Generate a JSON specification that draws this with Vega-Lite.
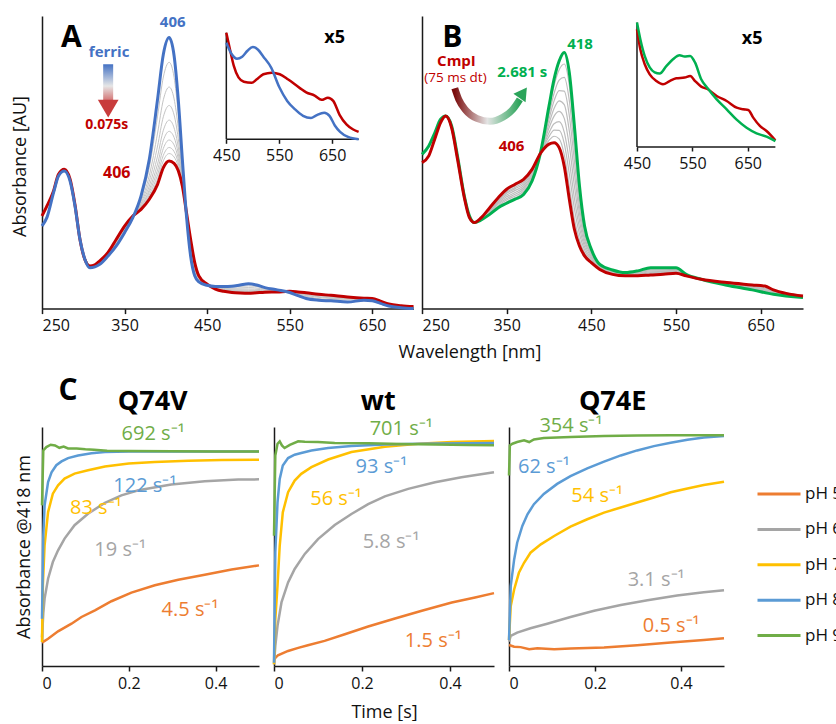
{
  "$schema": "https://vega.github.io/schema/vega-lite/v6.json",
  "padding": {"left": 11, "top": 14, "right": 0, "bottom": 0},
  "background": "white",
  "config": {
    "font": "Open Sans",
    "view": {"stroke": null},
    "axis": {"grid": false, "domainColor": "#1a1a1a", "domainWidth": 1.5, "tickColor": "#1a1a1a", "tickWidth": 1.5, "labelColor": "#111111", "labelFontSize": 16, "labelFont": "Open Sans", "titleFont": "Open Sans", "titleFontWeight": "normal", "titleColor": "#111111", "titleFontSize": 18, "labelPadding": 4},
    "text": {"font": "Open Sans"},
    "title": {"font": "Open Sans"}
  },
  "datasets": {
    "A": [
      {"s":"f","nm":250,"a":0.287},{"s":"f","nm":256,"a":0.317},{"s":"f","nm":264,"a":0.403},{"s":"f","nm":270,"a":0.461},{"s":"f","nm":277,"a":0.478},{"s":"f","nm":284,"a":0.443},{"s":"f","nm":290,"a":0.356},{"s":"f","nm":296,"a":0.24},{"s":"f","nm":302,"a":0.171},{"s":"f","nm":308,"a":0.142},{"s":"f","nm":314,"a":0.145},{"s":"f","nm":320,"a":0.154},{"s":"f","nm":330,"a":0.183},{"s":"f","nm":340,"a":0.218},{"s":"f","nm":350,"a":0.264},{"s":"f","nm":360,"a":0.316},{"s":"f","nm":370,"a":0.392},{"s":"f","nm":380,"a":0.519},{"s":"f","nm":390,"a":0.728},{"s":"f","nm":397,"a":0.884},{"s":"f","nm":404,"a":0.942},{"s":"f","nm":410,"a":0.879},{"s":"f","nm":415,"a":0.728},{"s":"f","nm":420,"a":0.519},{"s":"f","nm":425,"a":0.322},{"s":"f","nm":430,"a":0.183},{"s":"f","nm":435,"a":0.114},{"s":"f","nm":440,"a":0.093},{"s":"f","nm":450,"a":0.081},{"s":"f","nm":460,"a":0.077},{"s":"f","nm":470,"a":0.077},{"s":"f","nm":480,"a":0.078},{"s":"f","nm":490,"a":0.082},{"s":"f","nm":500,"a":0.086},{"s":"f","nm":510,"a":0.082},{"s":"f","nm":520,"a":0.073},{"s":"f","nm":535,"a":0.065},{"s":"f","nm":550,"a":0.056},{"s":"f","nm":560,"a":0.045},{"s":"f","nm":570,"a":0.035},{"s":"f","nm":585,"a":0.029},{"s":"f","nm":600,"a":0.027},{"s":"f","nm":620,"a":0.023},{"s":"f","nm":640,"a":0.029},{"s":"f","nm":650,"a":0.027},{"s":"f","nm":660,"a":0.018},{"s":"f","nm":670,"a":0.009},{"s":"f","nm":685,"a":0.003},{"s":"f","nm":700,"a":0.0},
      {"s":"c","nm":250,"a":0.322},{"s":"c","nm":256,"a":0.357},{"s":"c","nm":264,"a":0.409},{"s":"c","nm":270,"a":0.467},{"s":"c","nm":277,"a":0.484},{"s":"c","nm":284,"a":0.45},{"s":"c","nm":290,"a":0.36},{"s":"c","nm":296,"a":0.24},{"s":"c","nm":302,"a":0.17},{"s":"c","nm":308,"a":0.148},{"s":"c","nm":314,"a":0.152},{"s":"c","nm":320,"a":0.166},{"s":"c","nm":330,"a":0.195},{"s":"c","nm":340,"a":0.241},{"s":"c","nm":350,"a":0.287},{"s":"c","nm":360,"a":0.322},{"s":"c","nm":370,"a":0.345},{"s":"c","nm":380,"a":0.38},{"s":"c","nm":390,"a":0.432},{"s":"c","nm":397,"a":0.49},{"s":"c","nm":404,"a":0.513},{"s":"c","nm":410,"a":0.505},{"s":"c","nm":415,"a":0.48},{"s":"c","nm":420,"a":0.426},{"s":"c","nm":425,"a":0.334},{"s":"c","nm":430,"a":0.241},{"s":"c","nm":435,"a":0.16},{"s":"c","nm":440,"a":0.114},{"s":"c","nm":450,"a":0.085},{"s":"c","nm":460,"a":0.068},{"s":"c","nm":470,"a":0.06},{"s":"c","nm":480,"a":0.056},{"s":"c","nm":490,"a":0.054},{"s":"c","nm":500,"a":0.053},{"s":"c","nm":510,"a":0.055},{"s":"c","nm":520,"a":0.057},{"s":"c","nm":535,"a":0.058},{"s":"c","nm":550,"a":0.06},{"s":"c","nm":560,"a":0.058},{"s":"c","nm":570,"a":0.055},{"s":"c","nm":585,"a":0.05},{"s":"c","nm":600,"a":0.046},{"s":"c","nm":620,"a":0.04},{"s":"c","nm":640,"a":0.036},{"s":"c","nm":650,"a":0.035},{"s":"c","nm":660,"a":0.026},{"s":"c","nm":670,"a":0.016},{"s":"c","nm":685,"a":0.01},{"s":"c","nm":700,"a":0.007}
    ],
    "Agray": [
      {"nm":300,"g1":0.19,"g2":0.19,"g3":0.19,"g4":0.19,"g5":0.19,"g6":0.19,"g7":0.19,"g8":0.19},
      {"nm":310,"g1":0.143,"g2":0.144,"g3":0.145,"g4":0.146,"g5":0.147,"g6":0.147,"g7":0.147,"g8":0.148},
      {"nm":320,"g1":0.156,"g2":0.159,"g3":0.161,"g4":0.162,"g5":0.163,"g6":0.164,"g7":0.165,"g8":0.165},
      {"nm":330,"g1":0.185,"g2":0.188,"g3":0.19,"g4":0.191,"g5":0.192,"g6":0.193,"g7":0.194,"g8":0.194},
      {"nm":340,"g1":0.223,"g2":0.227,"g3":0.231,"g4":0.233,"g5":0.235,"g6":0.237,"g7":0.238,"g8":0.24},
      {"nm":350,"g1":0.269,"g2":0.273,"g3":0.277,"g4":0.279,"g5":0.281,"g6":0.283,"g7":0.284,"g8":0.286},
      {"nm":360,"g1":0.317,"g2":0.318,"g3":0.319,"g4":0.32,"g5":0.321,"g6":0.321,"g7":0.321,"g8":0.322},
      {"nm":370,"g1":0.383,"g2":0.373,"g3":0.366,"g4":0.361,"g5":0.356,"g6":0.353,"g7":0.35,"g8":0.348},
      {"nm":380,"g1":0.491,"g2":0.463,"g3":0.443,"g4":0.426,"g5":0.413,"g6":0.404,"g7":0.395,"g8":0.388},
      {"nm":390,"g1":0.669,"g2":0.61,"g3":0.565,"g4":0.53,"g5":0.503,"g6":0.482,"g7":0.465,"g8":0.45},
      {"nm":397,"g1":0.805,"g2":0.726,"g3":0.667,"g4":0.62,"g5":0.585,"g6":0.557,"g7":0.533,"g8":0.514},
      {"nm":404,"g1":0.856,"g2":0.77,"g3":0.706,"g4":0.655,"g5":0.616,"g6":0.586,"g7":0.56,"g8":0.539},
      {"nm":410,"g1":0.804,"g2":0.729,"g3":0.673,"g4":0.628,"g5":0.595,"g6":0.569,"g7":0.546,"g8":0.527},
      {"nm":415,"g1":0.678,"g2":0.629,"g3":0.592,"g4":0.562,"g5":0.54,"g6":0.522,"g7":0.507,"g8":0.495},
      {"nm":420,"g1":0.5,"g2":0.482,"g3":0.468,"g4":0.457,"g5":0.448,"g6":0.442,"g7":0.436,"g8":0.432},
      {"nm":425,"g1":0.324,"g2":0.327,"g3":0.329,"g4":0.33,"g5":0.331,"g6":0.332,"g7":0.333,"g8":0.333},
      {"nm":430,"g1":0.195,"g2":0.206,"g3":0.215,"g4":0.222,"g5":0.227,"g6":0.231,"g7":0.235,"g8":0.238},
      {"nm":435,"g1":0.123,"g2":0.132,"g3":0.139,"g4":0.145,"g5":0.149,"g6":0.152,"g7":0.155,"g8":0.157},
      {"nm":440,"g1":0.097,"g2":0.101,"g3":0.105,"g4":0.107,"g5":0.109,"g6":0.11,"g7":0.112,"g8":0.113},
      {"nm":450,"g1":0.082,"g2":0.083,"g3":0.083,"g4":0.084,"g5":0.084,"g6":0.084,"g7":0.085,"g8":0.085},
      {"nm":470,"g1":0.074,"g2":0.07,"g3":0.068,"g4":0.066,"g5":0.064,"g6":0.063,"g7":0.062,"g8":0.061},
      {"nm":500,"g1":0.079,"g2":0.073,"g3":0.068,"g4":0.064,"g5":0.061,"g6":0.059,"g7":0.057,"g8":0.055},
      {"nm":530,"g1":0.066,"g2":0.064,"g3":0.062,"g4":0.061,"g5":0.06,"g6":0.059,"g7":0.058,"g8":0.058},
      {"nm":560,"g1":0.048,"g2":0.05,"g3":0.052,"g4":0.054,"g5":0.055,"g6":0.056,"g7":0.057,"g8":0.057},
      {"nm":600,"g1":0.031,"g2":0.035,"g3":0.037,"g4":0.04,"g5":0.041,"g6":0.043,"g7":0.044,"g8":0.045},
      {"nm":640,"g1":0.03,"g2":0.032,"g3":0.033,"g4":0.034,"g5":0.034,"g6":0.035,"g7":0.035,"g8":0.036},
      {"nm":670,"g1":0.01,"g2":0.012,"g3":0.013,"g4":0.014,"g5":0.014,"g6":0.015,"g7":0.015,"g8":0.016},
      {"nm":700,"g1":0.001,"g2":0.003,"g3":0.004,"g4":0.005,"g5":0.005,"g6":0.006,"g7":0.006,"g8":0.007}
    ],
    "Ai": [
      {"s":"f","nm":450,"a":0.906},{"s":"f","nm":460,"a":0.8},{"s":"f","nm":470,"a":0.756},{"s":"f","nm":480,"a":0.775},{"s":"f","nm":490,"a":0.83},{"s":"f","nm":500,"a":0.866},{"s":"f","nm":510,"a":0.84},{"s":"f","nm":520,"a":0.775},{"s":"f","nm":535,"a":0.67},{"s":"f","nm":550,"a":0.49},{"s":"f","nm":565,"a":0.36},{"s":"f","nm":580,"a":0.28},{"s":"f","nm":595,"a":0.22},{"s":"f","nm":610,"a":0.2},{"s":"f","nm":620,"a":0.225},{"s":"f","nm":635,"a":0.25},{"s":"f","nm":645,"a":0.22},{"s":"f","nm":655,"a":0.13},{"s":"f","nm":665,"a":0.07},{"s":"f","nm":680,"a":0.022},{"s":"f","nm":700,"a":0.0},
      {"s":"c","nm":450,"a":1.0},{"s":"c","nm":457,"a":0.84},{"s":"c","nm":464,"a":0.69},{"s":"c","nm":473,"a":0.58},{"s":"c","nm":483,"a":0.54},{"s":"c","nm":498,"a":0.53},{"s":"c","nm":507,"a":0.56},{"s":"c","nm":520,"a":0.61},{"s":"c","nm":536,"a":0.625},{"s":"c","nm":551,"a":0.61},{"s":"c","nm":567,"a":0.56},{"s":"c","nm":589,"a":0.48},{"s":"c","nm":601,"a":0.44},{"s":"c","nm":617,"a":0.41},{"s":"c","nm":630,"a":0.37},{"s":"c","nm":642,"a":0.39},{"s":"c","nm":652,"a":0.36},{"s":"c","nm":664,"a":0.23},{"s":"c","nm":677,"a":0.14},{"s":"c","nm":689,"a":0.094},{"s":"c","nm":700,"a":0.069}
    ],
    "B": [
      {"s":"g","nm":250,"a":0.527},{"s":"g","nm":258,"a":0.556},{"s":"g","nm":265,"a":0.6},{"s":"g","nm":272,"a":0.647},{"s":"g","nm":278,"a":0.658},{"s":"g","nm":285,"a":0.624},{"s":"g","nm":292,"a":0.52},{"s":"g","nm":300,"a":0.385},{"s":"g","nm":306,"a":0.317},{"s":"g","nm":312,"a":0.294},{"s":"g","nm":320,"a":0.303},{"s":"g","nm":330,"a":0.322},{"s":"g","nm":340,"a":0.345},{"s":"g","nm":350,"a":0.36},{"s":"g","nm":360,"a":0.374},{"s":"g","nm":370,"a":0.39},{"s":"g","nm":380,"a":0.436},{"s":"g","nm":390,"a":0.533},{"s":"g","nm":400,"a":0.692},{"s":"g","nm":406,"a":0.784},{"s":"g","nm":412,"a":0.846},{"s":"g","nm":418,"a":0.875},{"s":"g","nm":424,"a":0.806},{"s":"g","nm":430,"a":0.624},{"s":"g","nm":436,"a":0.419},{"s":"g","nm":442,"a":0.282},{"s":"g","nm":450,"a":0.203},{"s":"g","nm":460,"a":0.151},{"s":"g","nm":475,"a":0.132},{"s":"g","nm":490,"a":0.123},{"s":"g","nm":505,"a":0.129},{"s":"g","nm":520,"a":0.14},{"s":"g","nm":535,"a":0.14},{"s":"g","nm":550,"a":0.14},{"s":"g","nm":562,"a":0.117},{"s":"g","nm":580,"a":0.1},{"s":"g","nm":610,"a":0.08},{"s":"g","nm":640,"a":0.064},{"s":"g","nm":665,"a":0.049},{"s":"g","nm":700,"a":0.038},
      {"s":"c","nm":250,"a":0.499},{"s":"c","nm":258,"a":0.522},{"s":"c","nm":265,"a":0.579},{"s":"c","nm":272,"a":0.636},{"s":"c","nm":278,"a":0.658},{"s":"c","nm":285,"a":0.618},{"s":"c","nm":292,"a":0.51},{"s":"c","nm":300,"a":0.379},{"s":"c","nm":306,"a":0.311},{"s":"c","nm":312,"a":0.294},{"s":"c","nm":320,"a":0.311},{"s":"c","nm":330,"a":0.345},{"s":"c","nm":340,"a":0.379},{"s":"c","nm":350,"a":0.408},{"s":"c","nm":360,"a":0.425},{"s":"c","nm":370,"a":0.442},{"s":"c","nm":380,"a":0.476},{"s":"c","nm":390,"a":0.531},{"s":"c","nm":400,"a":0.562},{"s":"c","nm":406,"a":0.567},{"s":"c","nm":412,"a":0.55},{"s":"c","nm":418,"a":0.487},{"s":"c","nm":424,"a":0.374},{"s":"c","nm":430,"a":0.271},{"s":"c","nm":436,"a":0.214},{"s":"c","nm":442,"a":0.18},{"s":"c","nm":450,"a":0.157},{"s":"c","nm":460,"a":0.134},{"s":"c","nm":475,"a":0.117},{"s":"c","nm":490,"a":0.112},{"s":"c","nm":505,"a":0.112},{"s":"c","nm":520,"a":0.115},{"s":"c","nm":535,"a":0.117},{"s":"c","nm":550,"a":0.121},{"s":"c","nm":562,"a":0.112},{"s":"c","nm":580,"a":0.1},{"s":"c","nm":610,"a":0.089},{"s":"c","nm":640,"a":0.081},{"s":"c","nm":655,"a":0.077},{"s":"c","nm":665,"a":0.064},{"s":"c","nm":680,"a":0.052},{"s":"c","nm":700,"a":0.043}
    ],
    "Bgray": [
      {"nm":312,"g1":0.294,"g2":0.294,"g3":0.294,"g4":0.294,"g5":0.294,"g6":0.294,"g7":0.294,"g8":0.294},
      {"nm":320,"g1":0.304,"g2":0.305,"g3":0.306,"g4":0.307,"g5":0.308,"g6":0.309,"g7":0.309,"g8":0.31},
      {"nm":330,"g1":0.324,"g2":0.327,"g3":0.33,"g4":0.333,"g5":0.335,"g6":0.338,"g7":0.34,"g8":0.343},
      {"nm":340,"g1":0.348,"g2":0.352,"g3":0.357,"g4":0.361,"g5":0.365,"g6":0.369,"g7":0.372,"g8":0.376},
      {"nm":350,"g1":0.365,"g2":0.371,"g3":0.376,"g4":0.382,"g5":0.388,"g6":0.394,"g7":0.398,"g8":0.403},
      {"nm":360,"g1":0.379,"g2":0.385,"g3":0.391,"g4":0.397,"g5":0.404,"g6":0.41,"g7":0.415,"g8":0.42},
      {"nm":370,"g1":0.395,"g2":0.401,"g3":0.408,"g4":0.414,"g5":0.42,"g6":0.426,"g7":0.432,"g8":0.437},
      {"nm":380,"g1":0.44,"g2":0.445,"g3":0.45,"g4":0.454,"g5":0.459,"g6":0.464,"g7":0.468,"g8":0.472},
      {"nm":390,"g1":0.533,"g2":0.533,"g3":0.532,"g4":0.532,"g5":0.532,"g6":0.532,"g7":0.531,"g8":0.531},
      {"nm":400,"g1":0.679,"g2":0.663,"g3":0.648,"g4":0.632,"g5":0.617,"g6":0.601,"g7":0.588,"g8":0.575},
      {"nm":406,"g1":0.762,"g2":0.736,"g3":0.71,"g4":0.684,"g5":0.658,"g6":0.632,"g7":0.61,"g8":0.589},
      {"nm":412,"g1":0.816,"g2":0.781,"g3":0.745,"g4":0.71,"g5":0.674,"g6":0.639,"g7":0.609,"g8":0.58},
      {"nm":418,"g1":0.836,"g2":0.79,"g3":0.743,"g4":0.697,"g5":0.65,"g6":0.603,"g7":0.565,"g8":0.526},
      {"nm":424,"g1":0.763,"g2":0.711,"g3":0.659,"g4":0.607,"g5":0.555,"g6":0.504,"g7":0.46,"g8":0.417},
      {"nm":430,"g1":0.589,"g2":0.546,"g3":0.504,"g4":0.462,"g5":0.419,"g6":0.377,"g7":0.342,"g8":0.306},
      {"nm":436,"g1":0.399,"g2":0.374,"g3":0.349,"g4":0.325,"g5":0.3,"g6":0.276,"g7":0.255,"g8":0.235},
      {"nm":442,"g1":0.272,"g2":0.26,"g3":0.247,"g4":0.235,"g5":0.223,"g6":0.211,"g7":0.2,"g8":0.19},
      {"nm":450,"g1":0.198,"g2":0.193,"g3":0.187,"g4":0.182,"g5":0.176,"g6":0.171,"g7":0.166,"g8":0.162},
      {"nm":460,"g1":0.149,"g2":0.147,"g3":0.145,"g4":0.143,"g5":0.141,"g6":0.139,"g7":0.137,"g8":0.136},
      {"nm":475,"g1":0.131,"g2":0.129,"g3":0.127,"g4":0.125,"g5":0.123,"g6":0.122,"g7":0.12,"g8":0.119},
      {"nm":490,"g1":0.122,"g2":0.121,"g3":0.119,"g4":0.118,"g5":0.117,"g6":0.115,"g7":0.114,"g8":0.113},
      {"nm":505,"g1":0.127,"g2":0.125,"g3":0.123,"g4":0.121,"g5":0.119,"g6":0.117,"g7":0.115,"g8":0.114},
      {"nm":520,"g1":0.138,"g2":0.135,"g3":0.132,"g4":0.129,"g5":0.126,"g6":0.123,"g7":0.12,"g8":0.118},
      {"nm":535,"g1":0.138,"g2":0.135,"g3":0.132,"g4":0.129,"g5":0.127,"g6":0.124,"g7":0.122,"g8":0.119},
      {"nm":550,"g1":0.138,"g2":0.136,"g3":0.134,"g4":0.131,"g5":0.129,"g6":0.127,"g7":0.125,"g8":0.123},
      {"nm":562,"g1":0.117,"g2":0.116,"g3":0.115,"g4":0.115,"g5":0.114,"g6":0.114,"g7":0.113,"g8":0.113},
      {"nm":580,"g1":0.1,"g2":0.1,"g3":0.1,"g4":0.1,"g5":0.1,"g6":0.1,"g7":0.1,"g8":0.1},
      {"nm":610,"g1":0.081,"g2":0.082,"g3":0.083,"g4":0.084,"g5":0.085,"g6":0.086,"g7":0.087,"g8":0.088},
      {"nm":640,"g1":0.066,"g2":0.068,"g3":0.07,"g4":0.072,"g5":0.074,"g6":0.076,"g7":0.078,"g8":0.079},
      {"nm":665,"g1":0.05,"g2":0.052,"g3":0.054,"g4":0.056,"g5":0.058,"g6":0.06,"g7":0.061,"g8":0.063},
      {"nm":700,"g1":0.039,"g2":0.039,"g3":0.04,"g4":0.04,"g5":0.041,"g6":0.042,"g7":0.042,"g8":0.043}
    ],
    "Bi": [
      {"s":"g","nm":450,"a":1.0},{"s":"g","nm":456,"a":0.866},{"s":"g","nm":464,"a":0.73},{"s":"g","nm":473,"a":0.64},{"s":"g","nm":482,"a":0.6},{"s":"g","nm":491,"a":0.59},{"s":"g","nm":503,"a":0.65},{"s":"g","nm":515,"a":0.705},{"s":"g","nm":527,"a":0.737},{"s":"g","nm":536,"a":0.727},{"s":"g","nm":546,"a":0.732},{"s":"g","nm":555,"a":0.678},{"s":"g","nm":566,"a":0.544},{"s":"g","nm":578,"a":0.47},{"s":"g","nm":594,"a":0.383},{"s":"g","nm":612,"a":0.303},{"s":"g","nm":630,"a":0.22},{"s":"g","nm":648,"a":0.155},{"s":"g","nm":666,"a":0.11},{"s":"g","nm":684,"a":0.083},{"s":"g","nm":700,"a":0.048},
      {"s":"c","nm":450,"a":0.946},{"s":"c","nm":456,"a":0.785},{"s":"c","nm":464,"a":0.665},{"s":"c","nm":473,"a":0.584},{"s":"c","nm":485,"a":0.53},{"s":"c","nm":497,"a":0.504},{"s":"c","nm":509,"a":0.53},{"s":"c","nm":521,"a":0.552},{"s":"c","nm":536,"a":0.558},{"s":"c","nm":546,"a":0.571},{"s":"c","nm":555,"a":0.53},{"s":"c","nm":566,"a":0.485},{"s":"c","nm":578,"a":0.464},{"s":"c","nm":594,"a":0.41},{"s":"c","nm":612,"a":0.37},{"s":"c","nm":630,"a":0.316},{"s":"c","nm":642,"a":0.303},{"s":"c","nm":651,"a":0.298},{"s":"c","nm":660,"a":0.236},{"s":"c","nm":672,"a":0.169},{"s":"c","nm":684,"a":0.129},{"s":"c","nm":700,"a":0.054}
    ],
    "cV": [
      {"p":"pH 5","t":0,"v":0.098},{"p":"pH 5","t":0.014,"v":0.114},{"p":"pH 5","t":0.037,"v":0.145},{"p":"pH 5","t":0.068,"v":0.177},{"p":"pH 5","t":0.091,"v":0.205},{"p":"pH 5","t":0.122,"v":0.233},{"p":"pH 5","t":0.16,"v":0.271},{"p":"pH 5","t":0.206,"v":0.307},{"p":"pH 5","t":0.26,"v":0.338},{"p":"pH 5","t":0.314,"v":0.361},{"p":"pH 5","t":0.375,"v":0.382},{"p":"pH 5","t":0.437,"v":0.404},{"p":"pH 5","t":0.5,"v":0.421},
      {"p":"pH 6","t":0,"v":0.12},{"p":"pH 6","t":0.003,"v":0.22},{"p":"pH 6","t":0.006,"v":0.282},{"p":"pH 6","t":0.014,"v":0.365},{"p":"pH 6","t":0.025,"v":0.435},{"p":"pH 6","t":0.037,"v":0.484},{"p":"pH 6","t":0.052,"v":0.533},{"p":"pH 6","t":0.075,"v":0.589},{"p":"pH 6","t":0.106,"v":0.637},{"p":"pH 6","t":0.145,"v":0.683},{"p":"pH 6","t":0.183,"v":0.714},{"p":"pH 6","t":0.222,"v":0.735},{"p":"pH 6","t":0.298,"v":0.759},{"p":"pH 6","t":0.375,"v":0.773},{"p":"pH 6","t":0.452,"v":0.78},{"p":"pH 6","t":0.5,"v":0.781},
      {"p":"pH 7","t":0,"v":0.1},{"p":"pH 7","t":0.002,"v":0.338},{"p":"pH 7","t":0.006,"v":0.505},{"p":"pH 7","t":0.014,"v":0.644},{"p":"pH 7","t":0.025,"v":0.721},{"p":"pH 7","t":0.037,"v":0.756},{"p":"pH 7","t":0.052,"v":0.784},{"p":"pH 7","t":0.075,"v":0.805},{"p":"pH 7","t":0.106,"v":0.819},{"p":"pH 7","t":0.145,"v":0.835},{"p":"pH 7","t":0.2,"v":0.847},{"p":"pH 7","t":0.26,"v":0.854},{"p":"pH 7","t":0.337,"v":0.859},{"p":"pH 7","t":0.414,"v":0.862},{"p":"pH 7","t":0.5,"v":0.863},
      {"p":"pH 8","t":0,"v":0.198},{"p":"pH 8","t":0.003,"v":0.547},{"p":"pH 8","t":0.006,"v":0.672},{"p":"pH 8","t":0.014,"v":0.77},{"p":"pH 8","t":0.022,"v":0.81},{"p":"pH 8","t":0.033,"v":0.84},{"p":"pH 8","t":0.045,"v":0.856},{"p":"pH 8","t":0.06,"v":0.87},{"p":"pH 8","t":0.083,"v":0.881},{"p":"pH 8","t":0.114,"v":0.89},{"p":"pH 8","t":0.145,"v":0.895},{"p":"pH 8","t":0.2,"v":0.897},{"p":"pH 8","t":0.3,"v":0.897},{"p":"pH 8","t":0.5,"v":0.897},
      {"p":"pH 9","t":0,"v":0.672},{"p":"pH 9","t":0.003,"v":0.902},{"p":"pH 9","t":0.01,"v":0.916},{"p":"pH 9","t":0.02,"v":0.926},{"p":"pH 9","t":0.03,"v":0.923},{"p":"pH 9","t":0.04,"v":0.913},{"p":"pH 9","t":0.05,"v":0.918},{"p":"pH 9","t":0.06,"v":0.91},{"p":"pH 9","t":0.08,"v":0.91},{"p":"pH 9","t":0.1,"v":0.907},{"p":"pH 9","t":0.12,"v":0.905},{"p":"pH 9","t":0.15,"v":0.901},{"p":"pH 9","t":0.2,"v":0.9},{"p":"pH 9","t":0.3,"v":0.899},{"p":"pH 9","t":0.4,"v":0.898},{"p":"pH 9","t":0.5,"v":0.898}
    ],
    "cW": [
      {"p":"pH 5","t":0,"v":0.028},{"p":"pH 5","t":0.009,"v":0.045},{"p":"pH 5","t":0.032,"v":0.063},{"p":"pH 5","t":0.055,"v":0.076},{"p":"pH 5","t":0.077,"v":0.087},{"p":"pH 5","t":0.115,"v":0.105},{"p":"pH 5","t":0.161,"v":0.133},{"p":"pH 5","t":0.214,"v":0.165},{"p":"pH 5","t":0.275,"v":0.199},{"p":"pH 5","t":0.336,"v":0.231},{"p":"pH 5","t":0.404,"v":0.266},{"p":"pH 5","t":0.457,"v":0.287},{"p":"pH 5","t":0.5,"v":0.305},
      {"p":"pH 6","t":0,"v":0.007},{"p":"pH 6","t":0.003,"v":0.084},{"p":"pH 6","t":0.008,"v":0.168},{"p":"pH 6","t":0.017,"v":0.266},{"p":"pH 6","t":0.032,"v":0.35},{"p":"pH 6","t":0.047,"v":0.406},{"p":"pH 6","t":0.07,"v":0.469},{"p":"pH 6","t":0.1,"v":0.531},{"p":"pH 6","t":0.138,"v":0.59},{"p":"pH 6","t":0.176,"v":0.636},{"p":"pH 6","t":0.214,"v":0.677},{"p":"pH 6","t":0.252,"v":0.71},{"p":"pH 6","t":0.305,"v":0.741},{"p":"pH 6","t":0.366,"v":0.769},{"p":"pH 6","t":0.426,"v":0.79},{"p":"pH 6","t":0.5,"v":0.811},
      {"p":"pH 7","t":0,"v":0.007},{"p":"pH 7","t":0.003,"v":0.196},{"p":"pH 7","t":0.008,"v":0.336},{"p":"pH 7","t":0.013,"v":0.503},{"p":"pH 7","t":0.02,"v":0.643},{"p":"pH 7","t":0.032,"v":0.727},{"p":"pH 7","t":0.047,"v":0.776},{"p":"pH 7","t":0.062,"v":0.804},{"p":"pH 7","t":0.085,"v":0.832},{"p":"pH 7","t":0.123,"v":0.864},{"p":"pH 7","t":0.176,"v":0.895},{"p":"pH 7","t":0.252,"v":0.917},{"p":"pH 7","t":0.328,"v":0.93},{"p":"pH 7","t":0.404,"v":0.937},{"p":"pH 7","t":0.5,"v":0.941},
      {"p":"pH 8","t":0,"v":0.014},{"p":"pH 8","t":0.003,"v":0.476},{"p":"pH 8","t":0.008,"v":0.685},{"p":"pH 8","t":0.013,"v":0.783},{"p":"pH 8","t":0.02,"v":0.839},{"p":"pH 8","t":0.032,"v":0.87},{"p":"pH 8","t":0.047,"v":0.884},{"p":"pH 8","t":0.062,"v":0.891},{"p":"pH 8","t":0.085,"v":0.902},{"p":"pH 8","t":0.123,"v":0.912},{"p":"pH 8","t":0.176,"v":0.92},{"p":"pH 8","t":0.252,"v":0.927},{"p":"pH 8","t":0.328,"v":0.93},{"p":"pH 8","t":0.5,"v":0.933},
      {"p":"pH 9","t":0,"v":0.545},{"p":"pH 9","t":0.003,"v":0.881},{"p":"pH 9","t":0.008,"v":0.93},{"p":"pH 9","t":0.013,"v":0.94},{"p":"pH 9","t":0.018,"v":0.923},{"p":"pH 9","t":0.024,"v":0.912},{"p":"pH 9","t":0.036,"v":0.925},{"p":"pH 9","t":0.055,"v":0.94},{"p":"pH 9","t":0.07,"v":0.938},{"p":"pH 9","t":0.1,"v":0.937},{"p":"pH 9","t":0.138,"v":0.933},{"p":"pH 9","t":0.214,"v":0.932},{"p":"pH 9","t":0.29,"v":0.929},{"p":"pH 9","t":0.366,"v":0.927},{"p":"pH 9","t":0.442,"v":0.925},{"p":"pH 9","t":0.5,"v":0.924}
    ],
    "cE": [
      {"p":"pH 5","t":0,"v":0.088},{"p":"pH 5","t":0.012,"v":0.081},{"p":"pH 5","t":0.027,"v":0.079},{"p":"pH 5","t":0.047,"v":0.07},{"p":"pH 5","t":0.066,"v":0.074},{"p":"pH 5","t":0.105,"v":0.07},{"p":"pH 5","t":0.143,"v":0.073},{"p":"pH 5","t":0.221,"v":0.077},{"p":"pH 5","t":0.298,"v":0.087},{"p":"pH 5","t":0.376,"v":0.098},{"p":"pH 5","t":0.453,"v":0.109},{"p":"pH 5","t":0.5,"v":0.116},
      {"p":"pH 6","t":0,"v":0.102},{"p":"pH 6","t":0.004,"v":0.126},{"p":"pH 6","t":0.019,"v":0.14},{"p":"pH 6","t":0.05,"v":0.158},{"p":"pH 6","t":0.089,"v":0.177},{"p":"pH 6","t":0.143,"v":0.205},{"p":"pH 6","t":0.198,"v":0.231},{"p":"pH 6","t":0.26,"v":0.255},{"p":"pH 6","t":0.322,"v":0.275},{"p":"pH 6","t":0.391,"v":0.295},{"p":"pH 6","t":0.453,"v":0.309},{"p":"pH 6","t":0.5,"v":0.317},
      {"p":"pH 7","t":0,"v":0.109},{"p":"pH 7","t":0.004,"v":0.25},{"p":"pH 7","t":0.012,"v":0.32},{"p":"pH 7","t":0.023,"v":0.39},{"p":"pH 7","t":0.035,"v":0.432},{"p":"pH 7","t":0.05,"v":0.474},{"p":"pH 7","t":0.074,"v":0.509},{"p":"pH 7","t":0.105,"v":0.544},{"p":"pH 7","t":0.143,"v":0.583},{"p":"pH 7","t":0.182,"v":0.614},{"p":"pH 7","t":0.221,"v":0.642},{"p":"pH 7","t":0.26,"v":0.663},{"p":"pH 7","t":0.298,"v":0.684},{"p":"pH 7","t":0.337,"v":0.705},{"p":"pH 7","t":0.376,"v":0.727},{"p":"pH 7","t":0.415,"v":0.743},{"p":"pH 7","t":0.453,"v":0.757},{"p":"pH 7","t":0.5,"v":0.771},
      {"p":"pH 8","t":0,"v":0.109},{"p":"pH 8","t":0.004,"v":0.334},{"p":"pH 8","t":0.012,"v":0.446},{"p":"pH 8","t":0.019,"v":0.516},{"p":"pH 8","t":0.031,"v":0.586},{"p":"pH 8","t":0.043,"v":0.635},{"p":"pH 8","t":0.058,"v":0.677},{"p":"pH 8","t":0.081,"v":0.72},{"p":"pH 8","t":0.112,"v":0.762},{"p":"pH 8","t":0.143,"v":0.794},{"p":"pH 8","t":0.182,"v":0.827},{"p":"pH 8","t":0.221,"v":0.855},{"p":"pH 8","t":0.26,"v":0.881},{"p":"pH 8","t":0.298,"v":0.902},{"p":"pH 8","t":0.337,"v":0.92},{"p":"pH 8","t":0.376,"v":0.934},{"p":"pH 8","t":0.415,"v":0.947},{"p":"pH 8","t":0.453,"v":0.956},{"p":"pH 8","t":0.5,"v":0.962},
      {"p":"pH 9","t":0,"v":0.797},{"p":"pH 9","t":0.002,"v":0.923},{"p":"pH 9","t":0.008,"v":0.93},{"p":"pH 9","t":0.019,"v":0.937},{"p":"pH 9","t":0.035,"v":0.944},{"p":"pH 9","t":0.047,"v":0.937},{"p":"pH 9","t":0.058,"v":0.948},{"p":"pH 9","t":0.081,"v":0.954},{"p":"pH 9","t":0.143,"v":0.958},{"p":"pH 9","t":0.221,"v":0.962},{"p":"pH 9","t":0.298,"v":0.964},{"p":"pH 9","t":0.376,"v":0.965},{"p":"pH 9","t":0.5,"v":0.965}
    ],
    "lV": [
      {"p":"pH 9","t":0.256,"v":0.971,"txt":"692 s\u207b\u00b9"},
      {"p":"pH 8","t":0.237,"v":0.753,"txt":"122 s\u207b\u00b9"},
      {"p":"pH 7","t":0.124,"v":0.661,"txt":"83 s\u207b\u00b9"},
      {"p":"pH 6","t":0.18,"v":0.485,"txt":"19 s\u207b\u00b9"},
      {"p":"pH 5","t":0.341,"v":0.234,"txt":"4.5 s\u207b\u00b9"}
    ],
    "lW": [
      {"p":"pH 9","t":0.289,"v":0.992,"txt":"701 s\u207b\u00b9"},
      {"p":"pH 8","t":0.244,"v":0.833,"txt":"93 s\u207b\u00b9"},
      {"p":"pH 7","t":0.141,"v":0.699,"txt":"56 s\u207b\u00b9"},
      {"p":"pH 6","t":0.266,"v":0.519,"txt":"5.8 s\u207b\u00b9"},
      {"p":"pH 5","t":0.362,"v":0.105,"txt":"1.5 s\u207b\u00b9"}
    ],
    "lE": [
      {"p":"pH 9","t":0.144,"v":1.004,"txt":"354 s\u207b\u00b9"},
      {"p":"pH 8","t":0.081,"v":0.833,"txt":"62 s\u207b\u00b9"},
      {"p":"pH 7","t":0.205,"v":0.711,"txt":"54 s\u207b\u00b9"},
      {"p":"pH 6","t":0.342,"v":0.36,"txt":"3.1 s\u207b\u00b9"},
      {"p":"pH 5","t":0.377,"v":0.167,"txt":"0.5 s\u207b\u00b9"}
    ]
  },
  "vconcat": [
    {
      "hconcat": [
        {
          "width": 371.5,
          "height": 292.6,
          "layer": [
            {
              "encoding": {
                "x": {"field": "nm", "type": "quantitative", "scale": {"domain": [250, 700], "nice": false, "zero": false}, "axis": {"values": [250, 350, 450, 550, 650], "format": "d", "title": null, "tickSize": 5}},
                "y": {"field": "a", "type": "quantitative", "scale": {"domain": [0, 1.017], "nice": false, "zero": false}, "axis": {"labels": false, "ticks": false, "title": "Absorbance [AU]", "titleX": -22, "titleY": 150, "titleBaseline": "middle", "titleAlign": "center", "titleAngle": -90}}
              },
              "layer": [
                {"data": {"name": "Agray"}, "transform": [{"fold": ["g1","g2","g3","g4","g5","g6","g7","g8"], "as": ["k", "a"]}], "mark": {"type": "line", "color": "#c4c4c4", "strokeWidth": 1, "interpolate": "monotone"}, "encoding": {"detail": {"field": "k", "type": "nominal"}}},
                {"data": {"name": "A"}, "transform": [{"filter": "datum.s == 'c'"}], "mark": {"type": "line", "color": "#c00000", "strokeWidth": 3, "interpolate": "monotone"}, "encoding": {}},
                {"data": {"name": "A"}, "transform": [{"filter": "datum.s == 'f'"}], "mark": {"type": "line", "color": "#4472c4", "strokeWidth": 3, "interpolate": "monotone"}, "encoding": {}},
                {"data": {"values": [{"nm": 324.1, "nm2": 336.2, "a": 0.849, "a2": 0.712}]}, "mark": {"type": "rect", "fill": {"gradient": "linear", "x1": 0, "y1": 0, "x2": 0, "y2": 1, "stops": [{"offset": 0, "color": "#4472c4"}, {"offset": 0.55, "color": "#e6e6e6"}, {"offset": 1, "color": "#d05a5a"}]}}, "encoding": {"x2": {"field": "nm2"}, "y2": {"field": "a2"}}},
                {"data": {"values": [{"nm": 330.2, "a": 0.695}]}, "mark": {"type": "point", "shape": "triangle-down", "filled": true, "size": 430, "color": "#c83c3c", "opacity": 1}, "encoding": {}},
                {"data": {"values": [{"nm": 285.4, "a": 0.94, "t": "A"}]}, "mark": {"type": "text", "fontSize": 30, "fontWeight": "bold", "color": "#000000", "baseline": "middle"}, "encoding": {"text": {"field": "t"}}},
                {"data": {"values": [{"nm": 408.3, "a": 0.997, "t": "406"}, {"nm": 331.3, "a": 0.892, "t": "ferric"}]}, "mark": {"type": "text", "fontSize": 15, "fontWeight": "bold", "color": "#4472c4", "baseline": "middle"}, "encoding": {"text": {"field": "t"}}},
                {"data": {"values": [{"nm": 328.5, "a": 0.637, "t": "0.075s"}]}, "mark": {"type": "text", "fontSize": 14, "fontWeight": "bold", "color": "#c00000", "baseline": "middle"}, "encoding": {"text": {"field": "t"}}},
                {"data": {"values": [{"nm": 340.6, "a": 0.473, "t": "406"}]}, "mark": {"type": "text", "fontSize": 16, "fontWeight": "bold", "color": "#c00000", "baseline": "middle"}, "encoding": {"text": {"field": "t"}}},
                {"data": {"values": [{"nm": 604.4, "a": 0.939, "t": "x5"}]}, "mark": {"type": "text", "fontSize": 18, "fontWeight": "bold", "color": "#000000", "baseline": "middle"}, "encoding": {"text": {"field": "t"}}}
              ]
            },
            {
              "encoding": {
                "x": {"field": "nm", "type": "quantitative", "scale": {"domain": [101.7, 803.7], "nice": false, "zero": false}, "axis": {"orient": "bottom", "offset": -169.3, "values": [450, 550, 650], "format": "d", "title": null, "domain": false, "tickSize": 4}},
                "y": {"field": "a", "type": "quantitative", "scale": {"domain": [-1.587, 1.156], "nice": false, "zero": false}, "axis": null}
              },
              "layer": [
                {"data": {"values": [{"nm": 450, "nm2": 700, "a": 0, "a2": 0}, {"nm": 450, "nm2": 450, "a": 0, "a2": 1.0}]}, "mark": {"type": "rule", "color": "#1a1a1a", "strokeWidth": 1.5}, "encoding": {"x2": {"field": "nm2"}, "y2": {"field": "a2"}}},
                {"data": {"name": "Ai"}, "transform": [{"filter": "datum.s == 'c'"}], "mark": {"type": "line", "color": "#c00000", "strokeWidth": 2.5, "interpolate": "monotone"}, "encoding": {}},
                {"data": {"name": "Ai"}, "transform": [{"filter": "datum.s == 'f'"}], "mark": {"type": "line", "color": "#4472c4", "strokeWidth": 2.5, "interpolate": "monotone"}, "encoding": {}}
              ]
            }
          ],
          "resolve": {"scale": {"x": "independent", "y": "independent"}}
        },
        {
          "width": 381,
          "height": 292.6,
          "layer": [
            {
              "encoding": {
                "x": {"field": "nm", "type": "quantitative", "scale": {"domain": [250, 700], "nice": false, "zero": false}, "axis": {"values": [250, 350, 450, 550, 650], "format": "d", "title": "Wavelength [nm]", "titleX": 47.5, "titleY": 44, "titleBaseline": "middle", "titleAlign": "center", "tickSize": 5}},
                "y": {"field": "a", "type": "quantitative", "scale": {"domain": [0, 1.0], "nice": false, "zero": false}, "axis": {"labels": false, "ticks": false, "title": null}}
              },
              "layer": [
                {"data": {"name": "Bgray"}, "transform": [{"fold": ["g1","g2","g3","g4","g5","g6","g7","g8"], "as": ["k", "a"]}], "mark": {"type": "line", "color": "#bdbdbd", "strokeWidth": 1.2, "interpolate": "monotone"}, "encoding": {"detail": {"field": "k", "type": "nominal"}}},
                {"data": {"name": "B"}, "transform": [{"filter": "datum.s == 'g'"}], "mark": {"type": "line", "color": "#00b050", "strokeWidth": 3, "interpolate": "monotone"}, "encoding": {}},
                {"data": {"name": "B"}, "transform": [{"filter": "datum.s == 'c'"}], "mark": {"type": "line", "color": "#c00000", "strokeWidth": 3, "interpolate": "monotone"}, "encoding": {}},
                {"data": {"values": [{"nm": 288.7, "a": 0.753}, {"nm": 293.4, "a": 0.715}, {"nm": 301.7, "a": 0.678}, {"nm": 314.7, "a": 0.65}, {"nm": 330.1, "a": 0.64}, {"nm": 345.5, "a": 0.654}, {"nm": 357.4, "a": 0.681}, {"nm": 365.6, "a": 0.715}]}, "mark": {"type": "line", "strokeWidth": 7, "interpolate": "monotone", "stroke": {"gradient": "linear", "x1": 0, "y1": 0, "x2": 1, "y2": 0, "stops": [{"offset": 0, "color": "#7a0c0c"}, {"offset": 0.5, "color": "#e4e4e4"}, {"offset": 1, "color": "#2ba45a"}]}}, "encoding": {}},
                {"data": {"values": [{"nm": 369.5, "a": 0.738}]}, "mark": {"type": "point", "shape": "triangle-up", "filled": true, "size": 220, "angle": 35, "color": "#2ba45a", "opacity": 1}, "encoding": {}},
                {"data": {"values": [{"nm": 285.8, "a": 0.924, "t": "B"}]}, "mark": {"type": "text", "fontSize": 30, "fontWeight": "bold", "color": "#000000", "baseline": "middle"}, "encoding": {"text": {"field": "t"}}},
                {"data": {"values": [{"nm": 290.7, "a": 0.845, "t": "CmpI"}, {"nm": 355.8, "a": 0.554, "t": "406"}]}, "mark": {"type": "text", "fontSize": 15, "fontWeight": "bold", "color": "#c00000", "baseline": "middle"}, "encoding": {"text": {"field": "t"}}},
                {"data": {"values": [{"nm": 289.5, "a": 0.787, "t": "(75 ms dt)"}]}, "mark": {"type": "text", "fontSize": 13.5, "color": "#c00000", "baseline": "middle"}, "encoding": {"text": {"field": "t"}}},
                {"data": {"values": [{"nm": 368.4, "a": 0.807, "t": "2.681 s"}, {"nm": 436.7, "a": 0.906, "t": "418"}]}, "mark": {"type": "text", "fontSize": 15, "fontWeight": "bold", "color": "#00b050", "baseline": "middle"}, "encoding": {"text": {"field": "t"}}},
                {"data": {"values": [{"nm": 640, "a": 0.92, "t": "x5"}]}, "mark": {"type": "text", "fontSize": 18, "fontWeight": "bold", "color": "#000000", "baseline": "middle"}, "encoding": {"text": {"field": "t"}}}
              ]
            },
            {
              "encoding": {
                "x": {"field": "nm", "type": "quantitative", "scale": {"domain": [61.6, 749.9], "nice": false, "zero": false}, "axis": {"orient": "bottom", "offset": -161.6, "values": [450, 550, 650], "format": "d", "title": null, "domain": false, "tickSize": 4}},
                "y": {"field": "a", "type": "quantitative", "scale": {"domain": [-1.299, 1.053], "nice": false, "zero": false}, "axis": null}
              },
              "layer": [
                {"data": {"values": [{"nm": 450, "nm2": 700, "a": 0, "a2": 0}, {"nm": 450, "nm2": 450, "a": 0, "a2": 1.0}]}, "mark": {"type": "rule", "color": "#1a1a1a", "strokeWidth": 1.5}, "encoding": {"x2": {"field": "nm2"}, "y2": {"field": "a2"}}},
                {"data": {"name": "Bi"}, "transform": [{"filter": "datum.s == 'c'"}], "mark": {"type": "line", "color": "#c00000", "strokeWidth": 2.5, "interpolate": "monotone"}, "encoding": {}},
                {"data": {"name": "Bi"}, "transform": [{"filter": "datum.s == 'g'"}], "mark": {"type": "line", "color": "#00b050", "strokeWidth": 2.5, "interpolate": "monotone"}, "encoding": {}}
              ]
            }
          ],
          "resolve": {"scale": {"x": "independent", "y": "independent"}}
        }
      ],
      "spacing": 8,
      "bounds": "flush"
    },
    {
      "hconcat": [
        {
          "width": 217,
          "height": 239,
          "encoding": {
            "x": {"field": "t", "type": "quantitative", "scale": {"domain": [0, 0.5], "nice": false}, "axis": {"values": [0, 0.2, 0.4], "format": "~g", "title": null, "tickSize": 5}},
            "y": {"field": "v", "type": "quantitative", "scale": {"domain": [0, 1], "nice": false}, "axis": {"labels": false, "ticks": false, "title": "Absorbance  @418 nm", "titleX": -18, "titleY": 119.5, "titleBaseline": "middle", "titleAlign": "center", "titleAngle": -90}}
          },
          "layer": [
            {"data": {"name": "cV"}, "mark": {"type": "line", "strokeWidth": 2.5}, "encoding": {"color": {"field": "p", "type": "nominal", "scale": {"domain": ["pH 5","pH 6","pH 7","pH 8","pH 9"], "range": ["#ed7d31","#a5a5a5","#ffc000","#5b9bd5","#70ad47"]}, "legend": null}}},
            {"data": {"name": "lV"}, "mark": {"type": "text", "fontSize": 20, "baseline": "middle"}, "encoding": {"text": {"field": "txt"}, "color": {"field": "p", "type": "nominal", "legend": null}}},
            {"data": {"values": [{"t": 0.06, "v": 1.15, "txt": "C"}]}, "mark": {"type": "text", "fontSize": 30, "fontWeight": "bold", "color": "#000000", "baseline": "middle"}, "encoding": {"text": {"field": "txt"}}},
            {"data": {"values": [{"t": 0.255, "v": 1.071, "txt": "Q74V"}]}, "mark": {"type": "text", "fontSize": 27, "fontWeight": "bold", "color": "#000000", "baseline": "alphabetic"}, "encoding": {"text": {"field": "txt"}}}
          ]
        },
        {
          "width": 220,
          "height": 239,
          "encoding": {
            "x": {"field": "t", "type": "quantitative", "scale": {"domain": [0, 0.5], "nice": false}, "axis": {"values": [0, 0.2, 0.4], "format": "~g", "title": "Time [s]", "titleY": 46, "titleBaseline": "middle", "tickSize": 5}},
            "y": {"field": "v", "type": "quantitative", "scale": {"domain": [0, 1], "nice": false}, "axis": {"labels": false, "ticks": false, "title": null}}
          },
          "layer": [
            {"data": {"name": "cW"}, "mark": {"type": "line", "strokeWidth": 2.5}, "encoding": {"color": {"field": "p", "type": "nominal", "scale": {"domain": ["pH 5","pH 6","pH 7","pH 8","pH 9"], "range": ["#ed7d31","#a5a5a5","#ffc000","#5b9bd5","#70ad47"]}, "legend": null}}},
            {"data": {"name": "lW"}, "mark": {"type": "text", "fontSize": 20, "baseline": "middle"}, "encoding": {"text": {"field": "txt"}, "color": {"field": "p", "type": "nominal", "legend": null}}},
            {"data": {"values": [{"t": 0.237, "v": 1.071, "txt": "wt"}]}, "mark": {"type": "text", "fontSize": 27, "fontWeight": "bold", "color": "#000000", "baseline": "alphabetic"}, "encoding": {"text": {"field": "txt"}}}
          ]
        },
        {
          "width": 215,
          "height": 239,
          "encoding": {
            "x": {"field": "t", "type": "quantitative", "scale": {"domain": [0, 0.5], "nice": false}, "axis": {"values": [0, 0.2, 0.4], "format": "~g", "title": null, "tickSize": 5}},
            "y": {"field": "v", "type": "quantitative", "scale": {"domain": [0, 1], "nice": false}, "axis": {"labels": false, "ticks": false, "title": null}}
          },
          "layer": [
            {"data": {"name": "cE"}, "mark": {"type": "line", "strokeWidth": 2.5}, "encoding": {"color": {"field": "p", "type": "nominal", "scale": {"domain": ["pH 5","pH 6","pH 7","pH 8","pH 9"], "range": ["#ed7d31","#a5a5a5","#ffc000","#5b9bd5","#70ad47"]}, "legend": {"orient": "none", "legendX": 247, "legendY": 44, "title": null, "symbolType": "stroke", "symbolSize": 1849, "symbolStrokeWidth": 3, "labelFontSize": 17, "labelColor": "#111111", "labelFont": "Open Sans", "rowPadding": 4.4, "labelOffset": 3, "padding": 0}}}},
            {"data": {"name": "lE"}, "mark": {"type": "text", "fontSize": 20, "baseline": "middle"}, "encoding": {"text": {"field": "txt"}, "color": {"field": "p", "type": "nominal"}}},
            {"data": {"values": [{"t": 0.241, "v": 1.071, "txt": "Q74E"}]}, "mark": {"type": "text", "fontSize": 27, "fontWeight": "bold", "color": "#000000", "baseline": "alphabetic"}, "encoding": {"text": {"field": "txt"}}}
          ]
        }
      ],
      "spacing": 15,
      "bounds": "flush",
      "resolve": {"scale": {"color": "independent"}, "legend": {"color": "independent"}}
    }
  ],
  "spacing": 14,
  "resolve": {"scale": {"color": "independent"}, "legend": {"color": "independent"}}
}
